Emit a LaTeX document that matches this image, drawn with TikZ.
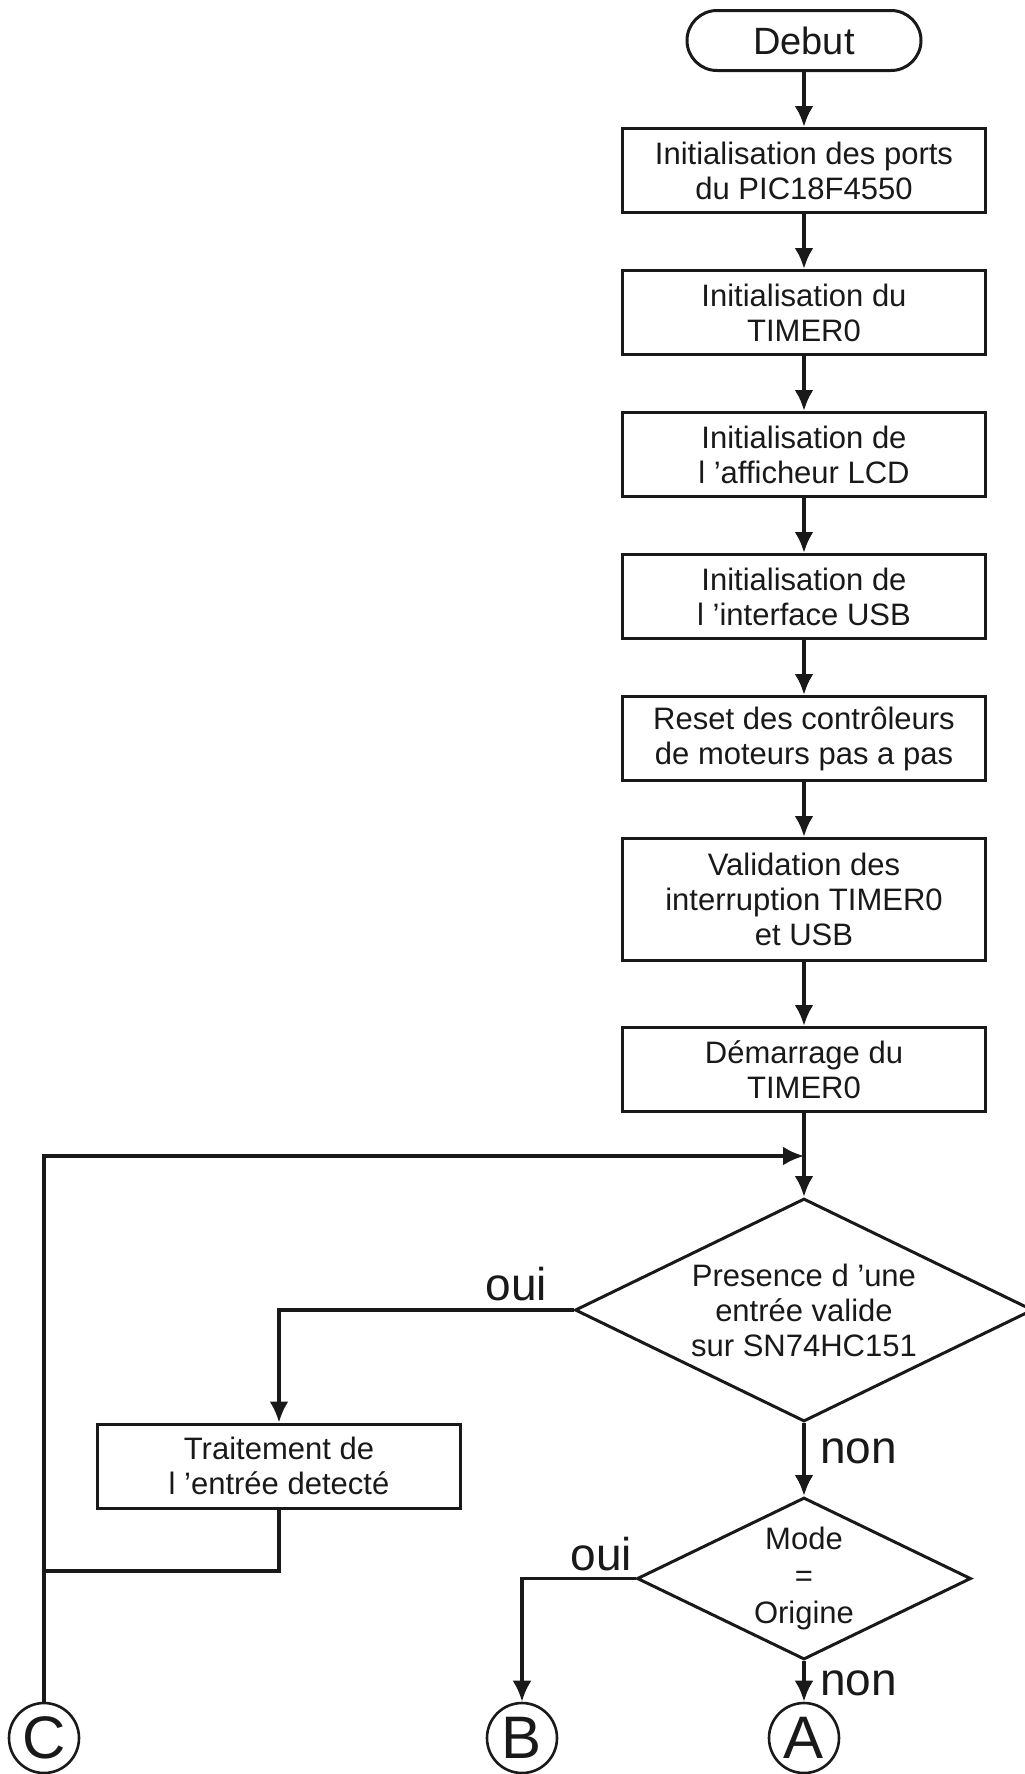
\documentclass[tikz,border=0pt]{standalone}
\usepackage{fontspec}
\setmainfont{Liberation Sans}
\usetikzlibrary{positioning,shapes.geometric,arrows.meta}

\begin{document}
\begin{tikzpicture}[every node/.style={align=center, text=black!90,
                    font=\fontsize{15.5}{17.5}\selectfont},
                    box/.style={draw=black!90, rectangle, line width=1.5pt,
                    minimum width=181.5pt, minimum height=42pt},
                    debut/.style={draw=black!90, rectangle, rounded corners=15pt,
                    line width=1.5pt, minimum width=117pt, minimum height=30pt,
                    font=\fontsize{19}{22}\selectfont},
                    test/.style={draw=black!90, diamond, aspect=2, inner sep=0pt,
                    line width=1.5pt},
                    link/.style={draw=black!90, circle, line width=1.3pt,
                    minimum size=35pt, inner sep=0pt, font=\fontsize{30}{32}\selectfont},
                    answer/.style={inner sep=0pt, font=\fontsize{23}{26}\selectfont},
                    flow/.style={draw=black!90, line width=2.2pt,
                    -{Latex[length=10.5pt,width=9.5pt]}},
                    side/.style={flow, line width=1.8pt},
                    back/.style={draw=black!90, line width=1.6pt},
                    node distance=27.5pt]
  \useasboundingbox (0,0) rectangle (512pt,-887pt);

  \node[debut] (debut) at (402pt,-20.25pt) {Debut};
  \node[box, below=of debut] (ports) {Initialisation des ports\\du PIC18F4550};
  \node[box, below=of ports] (timer) {Initialisation du\\TIMER0};
  \node[box, below=of timer] (lcd) {Initialisation de\\l ’afficheur LCD};
  \node[box, below=of lcd] (usb) {Initialisation de\\l ’interface USB};
  \node[box, below=of usb] (reset) {Reset des contrôleurs\\de moteurs pas a pas};
  \node[box, below=of reset, minimum height=61pt] (inter)
    {Validation des\\interruption TIMER0\\et USB};
  \node[box, below=32pt of inter] (start) {Démarrage du\\TIMER0};
  \coordinate[below=21.5pt of start] (join);
  \node[test, below=42pt of start, minimum width=229pt, minimum height=111.5pt] (entree)
    {Presence d ’une\\entrée valide\\sur SN74HC151};
  \node[test, below=36.5pt of entree, minimum width=167pt, minimum height=81pt] (mode)
    {Mode\\[1pt]=\\[1pt]Origine};
  \node[box] (trait) at (139.5pt,-733pt) {Traitement de\\l ’entrée detecté};
  \node[link] (A) at (402pt,-869pt) {A};
  \node[link] (B) at (261pt,-869pt) {B};
  \node[link] (C) at (22pt,-869pt) {C};
  \coordinate (tee) at (C |- 0,-785.5pt);

  \node[answer, anchor=south east] (oui1) at ([xshift=-13pt,yshift=4.5pt]entree.west) {oui};
  \node[answer, anchor=base west] (non1) at ([xshift=8pt,yshift=-20pt]entree.south) {non};
  \node[answer, anchor=base east] (oui2) at ([xshift=-1.5pt,yshift=4pt]mode.west) {oui};
  \node[answer, anchor=base west] (non2) at ([xshift=8pt,yshift=-17pt]mode.south) {non};

  \foreach \a/\b in {debut/ports, ports/timer, timer/lcd, lcd/usb,
                     usb/reset, reset/inter, inter/start}
    \draw[flow] (\a) -- (\b);
  \draw[back, line width=2.2pt] (start) -- (join);
  \draw[flow] (join) -- (entree);
  \draw[side] (C) |- (join);
  \draw[side] (entree.west) -| (trait);
  \draw[back] (trait) |- (tee);
  \draw[flow] (entree) -- (mode);
  \draw[side] (mode.west) -| (B);
  \draw[flow] (mode) -- (A);
\end{tikzpicture}
\end{document}
